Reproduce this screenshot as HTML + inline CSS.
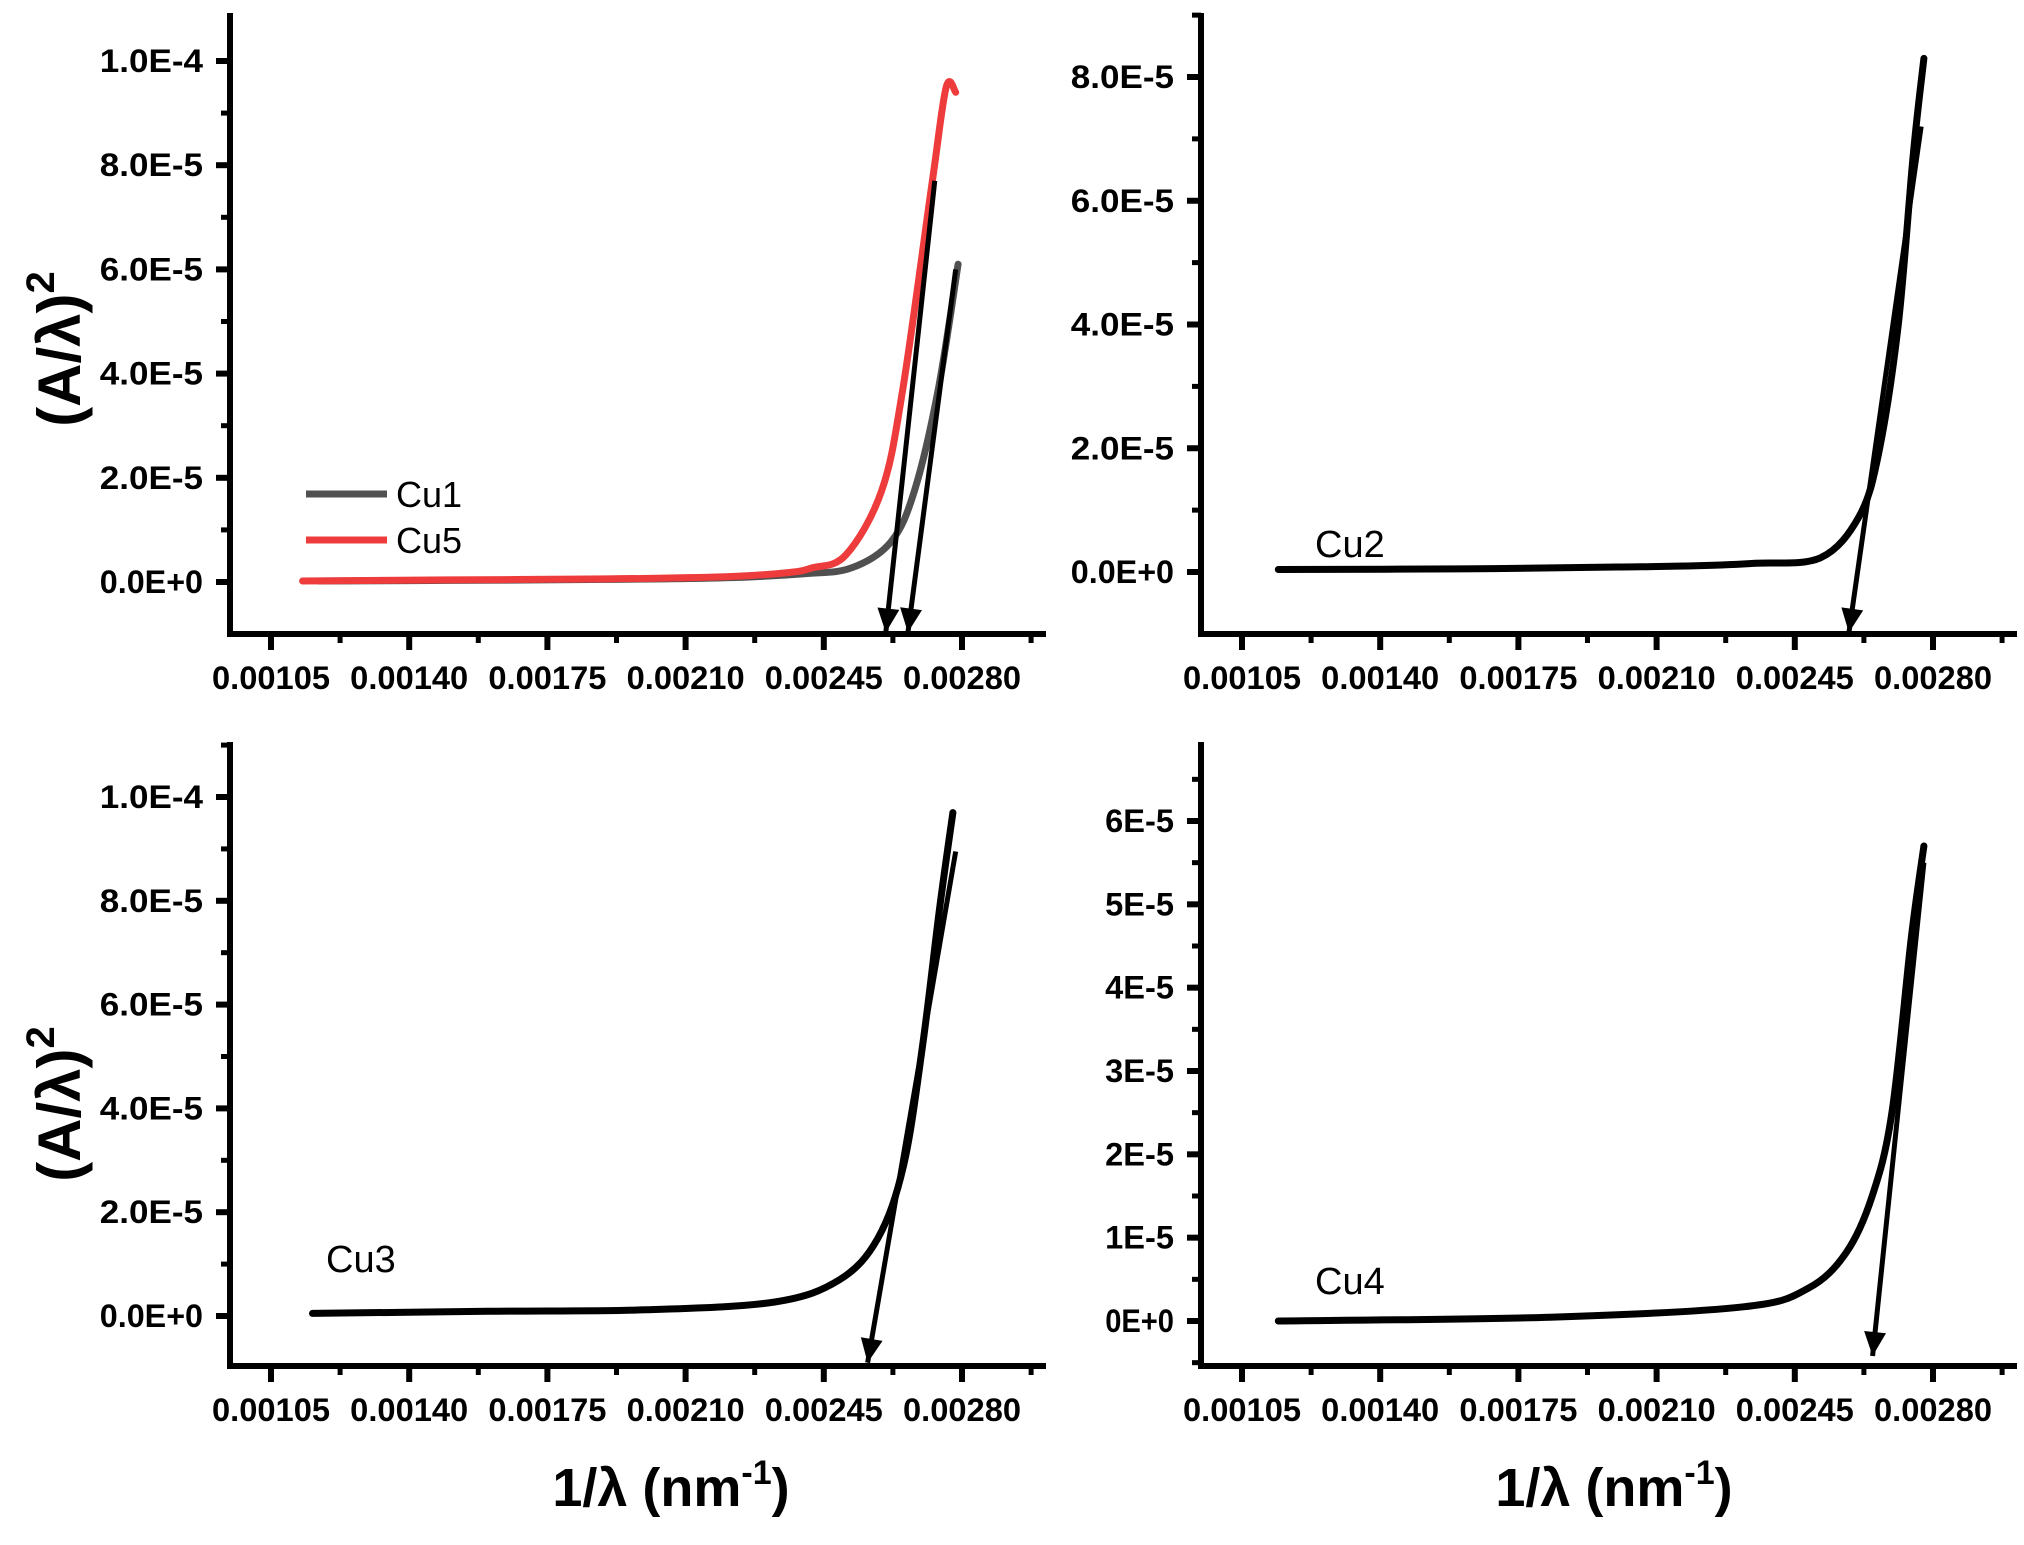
<!DOCTYPE html>
<html><head><meta charset="utf-8">
<style>
html,body{margin:0;padding:0;background:#fff;}
svg{display:block;}
text{font-family:"Liberation Sans",Arial,sans-serif;}
</style></head>
<body>
<svg id="fig" width="2024" height="1545" viewBox="0 0 2024 1545" xmlns="http://www.w3.org/2000/svg">
<rect width="2024" height="1545" fill="#fff"/>
<text transform="translate(80,349) rotate(-90)" text-anchor="middle" font-size="60" font-weight="bold">(A/λ)<tspan dy="-26" font-size="40">2</tspan></text>
<text transform="translate(80,1104) rotate(-90)" text-anchor="middle" font-size="60" font-weight="bold">(A/λ)<tspan dy="-26" font-size="40">2</tspan></text>
<text x="671" y="1506" text-anchor="middle" font-size="54" font-weight="bold">1/λ (nm<tspan dy="-22" font-size="34">-1</tspan><tspan dy="22">)</tspan></text>
<text x="1614" y="1506" text-anchor="middle" font-size="54" font-weight="bold">1/λ (nm<tspan dy="-22" font-size="34">-1</tspan><tspan dy="22">)</tspan></text>
</svg>
<script>
const xTicks = [0.00105, 0.00140, 0.00175, 0.00210, 0.00245, 0.00280];
const xTickLabels = ["0.00105","0.00140","0.00175","0.00210","0.00245","0.00280"];

const cu1X = [0.00117,0.0015,0.0019,0.0022,0.00240,0.00252,0.00262,0.00268,0.00274,0.00279];
const cu1Y = [0.2e-6,0.3e-6,0.5e-6,0.8e-6,1.6e-6,2.7e-6,7.7e-6,1.76e-5,3.7e-5,6.1e-5];
const cu5X = [0.00113,0.0015,0.0019,0.0022,0.00236,0.00242,0.002506,0.002597,0.00265,0.002725,0.00276,0.002784];
const cu5Y = [0.2e-6,0.4e-6,0.6e-6,1.0e-6,1.8e-6,2.7e-6,5.2e-6,1.76e-5,3.7e-5,7.7e-5,9.5e-5,9.4e-5];
const tan1X = [0.002731,0.002607], tan1Y = [7.7e-5,-9.7e-6];
const tan2X = [0.002784,0.002663], tan2Y = [6.0e-5,-9.7e-6];
const tlYTicks = [0,2e-5,4e-5,6e-5,8e-5,1e-4];
const tlYLabels = ["0.0E+0","2.0E-5","4.0E-5","6.0E-5","8.0E-5","1.0E-4"];

const cu2X = [0.001142,0.0016,0.0020,0.0022,0.00235,0.002515,0.002613,0.002663,0.002712,0.00275,0.002777];
const cu2Y = [0.4e-6,0.5e-6,0.8e-6,1.0e-6,1.4e-6,2.3e-6,9e-6,1.94e-5,4.0e-5,6.75e-5,8.3e-5];
const tan3X = [0.00277,0.002587], tan3Y = [7.2e-5,-9.8e-6];
const trYTicks = [0,2e-5,4e-5,6e-5,8e-5];
const trYLabels = ["0.0E+0","2.0E-5","4.0E-5","6.0E-5","8.0E-5"];

const cu3X = [0.001155,0.0016,0.0020,0.002326,0.00249,0.002587,0.002652,0.0027,0.002744,0.002777];
const cu3Y = [0.5e-6,0.9e-6,1.2e-6,2.7e-6,7e-6,1.5e-5,2.9e-5,5.2e-5,7.9e-5,9.7e-5];
const tan4X = [0.002784,0.002561], tan4Y = [8.95e-5,-9e-6];
const blYTicks = [0,2e-5,4e-5,6e-5,8e-5,1e-4];
const blYLabels = ["0.0E+0","2.0E-5","4.0E-5","6.0E-5","8.0E-5","1.0E-4"];

const cu4X = [0.001142,0.00183,0.00232,0.002483,0.00258,0.002646,0.002696,0.002745,0.002777];
const cu4Y = [0,0.46e-6,1.7e-6,3.9e-6,8.2e-6,1.5e-5,2.5e-5,4.6e-5,5.7e-5];
const tan5X = [0.002777,0.002647], tan5Y = [5.5e-5,-4.2e-6];
const brYTicks = [0,1e-5,2e-5,3e-5,4e-5,5e-5,6e-5];
const brYLabels = ["0E+0","1E-5","2E-5","3E-5","4E-5","5E-5","6E-5"];

const NS = "http://www.w3.org/2000/svg";
const svg = document.getElementById('fig');
function mk(tag, attrs, parent){
  const e = document.createElementNS(NS, tag);
  for (const k in attrs) e.setAttribute(k, attrs[k]);
  (parent||svg).appendChild(e);
  return e;
}

function panel2(name, axX, axY, top, right, xl, xr, yZero, yTopVal, yTopPx, yTicks, yLabels, minorY){
  const g = mk('g', {});
  
  
  const sx = v => xl + (v - xTicks[0])/(xTicks[xTicks.length-1]-xTicks[0])*(xr-xl);
  const sy = v => yZero - v/yTopVal*(yZero-yTopPx);
  const ya = mk('line', {x1:axX, y1:axY+3, x2:axX, y2:top, stroke:'#000','stroke-width':6}, g);
  
  
  const xa = mk('line', {x1:axX-3, y1:axY, x2:right, y2:axY, stroke:'#000','stroke-width':6}, g);
  
  
  const step = xTicks[1]-xTicks[0];
  for (let v = xTicks[0]-step/2; sx(v) < right; v += step/2) {
    const px = sx(v);
    if (px <= axX+2) continue;
    const major = Math.abs(((v - xTicks[0])/step) - Math.round((v - xTicks[0])/step)) < 1e-6;
    mk('line',{x1:px,y1:axY,x2:px,y2:axY+(major?16:9),stroke:'#000','stroke-width':major?6:5},g);
  }
  xTicks.forEach((t,i)=>{
    const lb = mk('text',{x:sx(t),y:axY+55,'text-anchor':'middle','font-size':32,'font-weight':'bold',fill:'#000','textLength':118,'lengthAdjust':'spacingAndGlyphs'},g);
    
    
    lb.textContent = xTickLabels[i];
  });
  const ystep = yTicks[1]-yTicks[0];
  for (let v = yTicks[0]-minorY; sy(v) > top; v += minorY) {
    const py = sy(v);
    if (py >= axY-2) continue;
    const major = Math.abs(v/ystep - Math.round(v/ystep)) < 1e-6;
    mk('line',{x1:axX-(major?14:9),y1:py,x2:axX,y2:py,stroke:'#000','stroke-width':major?6:5},g);
  }
  yTicks.forEach((t,i)=>{
    const lb = mk('text',{x:axX-27,y:sy(t)+11,'text-anchor':'end','font-size':32,'font-weight':'bold',fill:'#000','textLength':yLabels[i].length*17.2,'lengthAdjust':'spacingAndGlyphs'},g);
    
    
    lb.textContent = yLabels[i];
  });
  return {g, sx, sy};
}

function series(p, name, xs, ys, color){
  const P = xs.map((x,i)=>[p.sx(x), p.sy(ys[i])]);
  let d = 'M'+P[0][0].toFixed(1)+','+P[0][1].toFixed(1);
  for (let i=0;i<P.length-1;i++){
    const p0 = P[Math.max(0,i-1)], p1 = P[i], p2 = P[i+1], p3 = P[Math.min(P.length-1,i+2)];
    const c1 = [p1[0]+(p2[0]-p0[0])/6, p1[1]+(p2[1]-p0[1])/6];
    const c2 = [p2[0]-(p3[0]-p1[0])/6, p2[1]-(p3[1]-p1[1])/6];
    d += ' C'+c1[0].toFixed(1)+','+c1[1].toFixed(1)+' '+c2[0].toFixed(1)+','+c2[1].toFixed(1)+' '+p2[0].toFixed(1)+','+p2[1].toFixed(1);
  }
  const path = mk('path',{d, fill:'none', stroke:color, 'stroke-width':7, 'stroke-linejoin':'round','stroke-linecap':'round'}, p.g);
  
  
}
function tangent(p, name, xs, ys){
  const x1=p.sx(xs[0]), y1=p.sy(ys[0]), x2=p.sx(xs[1]), y2=p.sy(ys[1]);
  const ln = mk('line',{x1,y1,x2,y2,stroke:'#000','stroke-width':5}, p.g);
  
  
  const ang = Math.atan2(y2-y1, x2-x1);
  const L=24, W=11;
  const bx = x2 - L*Math.cos(ang), by = y2 - L*Math.sin(ang);
  const ax = -Math.sin(ang)*W, ay = Math.cos(ang)*W;
  const head = mk('polygon',{points:`${x2},${y2} ${bx+ax},${by+ay} ${bx-ax},${by-ay}`, fill:'#000'}, p.g);
  
  
}
function label(p, name, x, y, txt, size){
  const t = mk('text',{x,y,'font-size':size||36,fill:'#000'}, p.g);
  
  
  t.textContent = txt;
}

const A = panel2('panel-cu1-cu5', 230, 634, 13, 1046, 271, 962, 582, 1e-4, 61, tlYTicks, tlYLabels, 1e-5);
series(A, 'series-cu1', cu1X, cu1Y, '#505050');
series(A, 'series-cu5', cu5X, cu5Y, '#ee3b3b');
tangent(A, 'tangent-cu5', tan1X, tan1Y);
tangent(A, 'tangent-cu1', tan2X, tan2Y);
{ const l1 = mk('line',{x1:306,y1:494,x2:387,y2:494,stroke:'#505050','stroke-width':7},A.g);
  
  
  const l2 = mk('line',{x1:306,y1:540,x2:387,y2:540,stroke:'#ee3b3b','stroke-width':7},A.g);
  
   }
label(A, 'legend-entry-cu1', 396, 507, 'Cu1', 36);
label(A, 'legend-entry-cu5', 396, 553, 'Cu5', 36);

const B = panel2('panel-cu2', 1201, 634, 13, 2017, 1242, 1933, 572, 8e-5, 77, trYTicks, trYLabels, 1e-5);
series(B, 'series-cu2', cu2X, cu2Y, '#000');
tangent(B, 'tangent-cu2', tan3X, tan3Y);
label(B, 'label-cu2', 1315, 557, 'Cu2', 38);

const C = panel2('panel-cu3', 230, 1366, 742, 1046, 271, 962, 1316, 1e-4, 797, blYTicks, blYLabels, 1e-5);
series(C, 'series-cu3', cu3X, cu3Y, '#000');
tangent(C, 'tangent-cu3', tan4X, tan4Y);
label(C, 'label-cu3', 326, 1272, 'Cu3', 38);

const D = panel2('panel-cu4', 1201, 1366, 742, 2017, 1242, 1933, 1321, 6e-5, 821, brYTicks, brYLabels, 5e-6);
series(D, 'series-cu4', cu4X, cu4Y, '#000');
tangent(D, 'tangent-cu4', tan5X, tan5Y);
label(D, 'label-cu4', 1315, 1294, 'Cu4', 38);
</script>
</body></html>
